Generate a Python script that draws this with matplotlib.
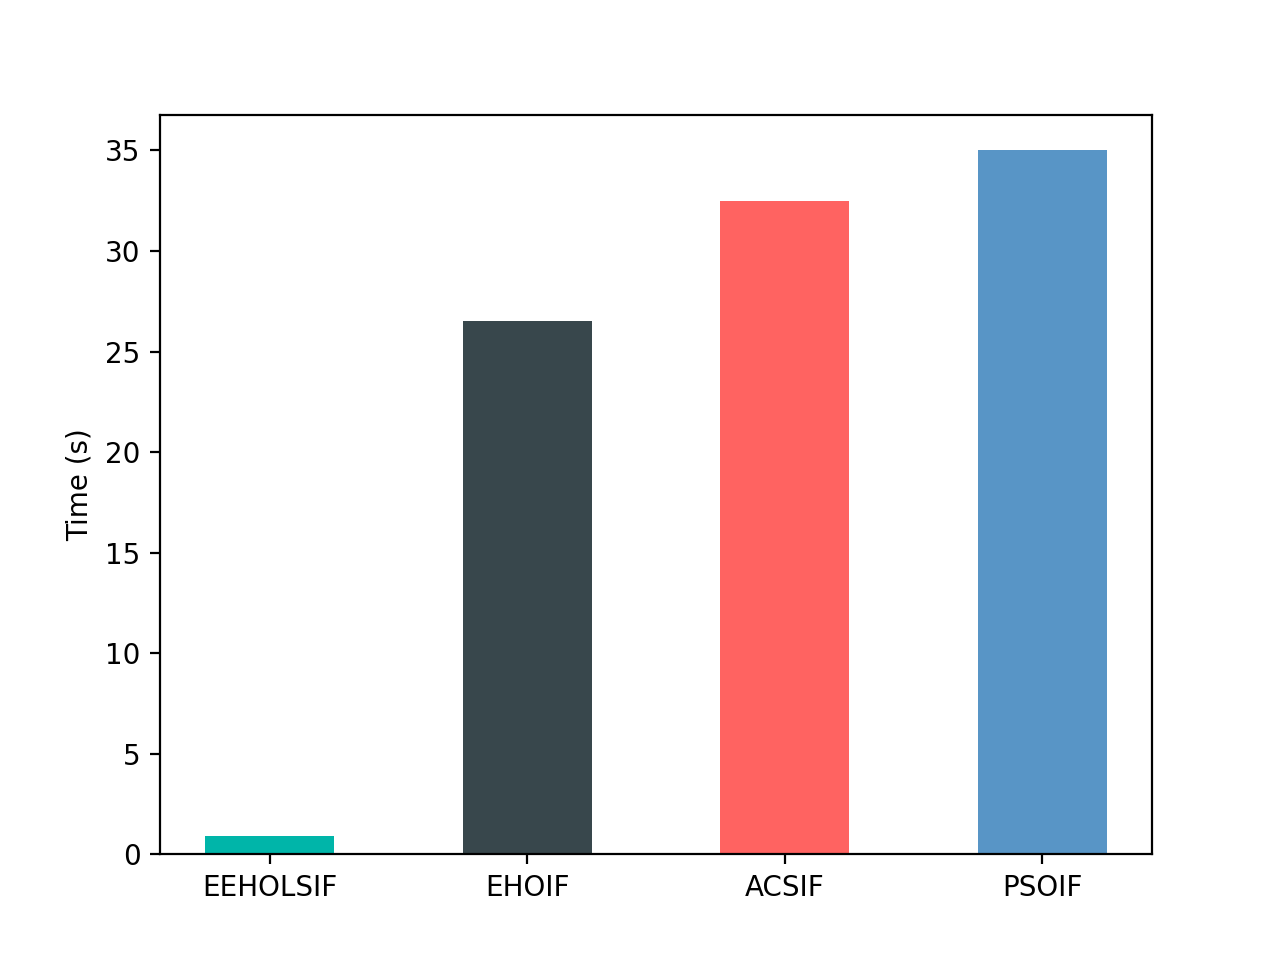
import matplotlib
matplotlib.use("Agg")
import matplotlib.pyplot as plt

# Algorithms and their running time in seconds
methods = ["EEHOLSIF", "EHOIF", "ACSIF", "PSOIF"]
times = [0.9, 26.5, 32.5, 35.0]
colors = ["#00b5a9", "#38474c", "#ff6361", "#5895c6"]

fig, ax = plt.subplots(figsize=(6.4, 4.8), dpi=200)
ax.bar(methods, times, width=0.5, color=colors)
ax.set_ylabel("Time (s)")

plt.savefig("out.png")
